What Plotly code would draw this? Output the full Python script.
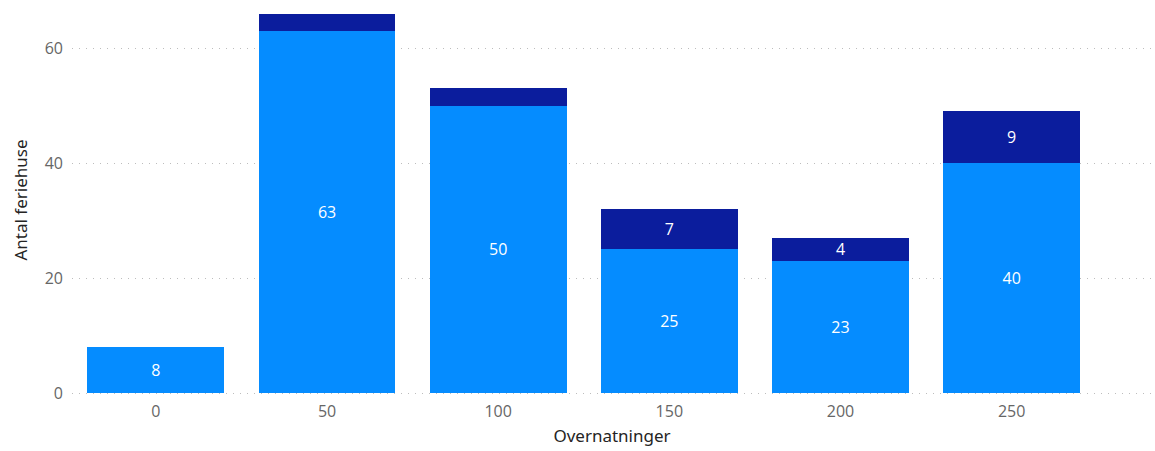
import plotly.graph_objects as go

categories = [0, 50, 100, 150, 200, 250]
base_values = [8, 63, 50, 25, 23, 40]
top_values = [0, 3, 3, 7, 4, 9]
y_ticks = [0, 20, 40, 60]

LIGHT = "#058CFF"
DARK = "#0B1D9D"

def labels(vals, minv):
    return [str(v) if v >= minv else "" for v in vals]

fig = go.Figure()
fig.add_trace(go.Bar(
    x=categories, y=base_values, width=40, marker=dict(color=LIGHT, line=dict(width=0)),
    text=labels(base_values, 1), textposition="inside", insidetextanchor="middle",
    textangle=0, constraintext="none", textfont=dict(color="white", size=16, family="Open Sans"),
    hoverinfo="x+y", name="A"))
fig.add_trace(go.Bar(
    x=categories, y=top_values, width=40, marker=dict(color=DARK, line=dict(width=0)),
    text=labels(top_values, 4), textposition="inside", insidetextanchor="middle",
    textangle=0, constraintext="none", textfont=dict(color="white", size=16, family="Open Sans"),
    hoverinfo="x+y", name="B"))

fig.update_layout(
    barmode="stack",
    width=1155, height=451,
    margin=dict(l=72, r=3, t=5, b=56),
    paper_bgcolor="white", plot_bgcolor="white",
    showlegend=False,
    font=dict(family="Open Sans", color="#666666"),
    xaxis=dict(
        range=[-24.5, 291], tickmode="array", tickvals=categories,
        ticktext=[str(c) for c in categories],
        tickfont=dict(size=16, color="#666666"), ticklabelstandoff=5,
        showgrid=False, zeroline=False, showline=False, ticks="",
        title=dict(text="Overnatninger", font=dict(size=17, color="#252423", family="Noto Sans"), standoff=9),
    ),
    yaxis=dict(
        range=[-0.3, 67.5], tickmode="array", tickvals=y_ticks,
        tickfont=dict(size=16, color="#666666"),
        showgrid=True, gridcolor="#BDBDBD", griddash="1px,6px", gridwidth=1,
        zeroline=False, showline=False, ticks="", ticklabelstandoff=8,
        title=dict(text="Antal feriehuse", font=dict(size=17, color="#252423", family="Noto Sans"), standoff=12),
    ),
)
fig.write_html("out.html")
